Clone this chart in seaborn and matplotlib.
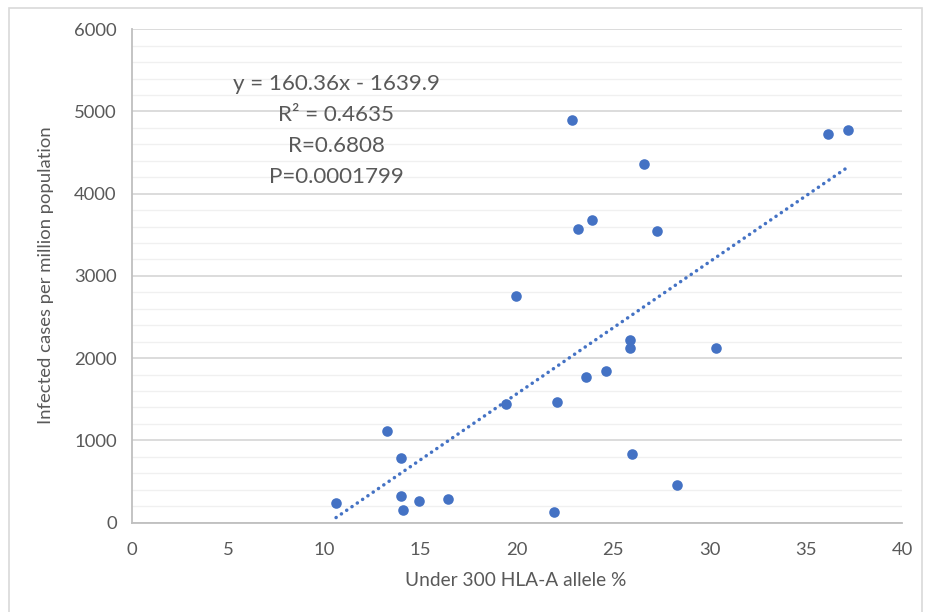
#!/usr/bin/env python3
"""
Scatter of infected cases per million vs. under-300 HLA-A allele %,
with the Excel-style linear trend line and its stats box.
"""

import matplotlib
matplotlib.use("Agg")
import matplotlib.pyplot as plt
import pandas as pd
import seaborn as sns
from matplotlib.patches import Rectangle
from matplotlib.ticker import MultipleLocator

# --- Data ---
allele_pct = [
    10.60, 13.23, 13.98, 13.98, 14.08, 14.92, 16.42, 19.96, 19.41, 21.92,
    22.09, 22.86, 23.15, 23.88, 23.60, 24.64, 25.87, 25.87, 25.95, 26.61,
    27.25, 28.29, 30.35, 36.15, 37.17,
]
cases_per_million = [
    241, 1117, 788, 326, 152, 265, 286, 2759, 1445, 131,
    1466, 4900, 3570, 3680, 1774, 1843, 2217, 2123, 833, 4358,
    3546, 460, 2123, 4730, 4771,
]
trend_slope = 160.36
trend_intercept = -1639.9
stats_lines = ["y = 160.36x - 1639.9", "R² = 0.4635", "R=0.6808", "P=0.0001799"]

X_LABEL = "Under 300 HLA-A allele %"
Y_LABEL = "Infected cases per million population"

BLUE = "#4472C4"
TEXT = "#595959"
W, H = 932, 612


def main() -> None:
    df = pd.DataFrame({"x": allele_pct, "y": cases_per_million})

    sns.set_theme(style="white")
    plt.rcParams["font.family"] = ["Lato", "DejaVu Sans"]

    fig = plt.figure(figsize=(W / 100, H / 100), dpi=100)
    fig.patch.set_facecolor("white")
    # light frame round the chart area, as in the Excel export
    fig.patches.append(Rectangle((9 / W, -0.05), 913 / W, 1.05 - 8 / H,
                                 transform=fig.transFigure, fill=False,
                                 edgecolor="#d9d9d9", linewidth=1.2))

    ax = fig.add_axes([132 / W, 1 - 522.5 / H, 770 / W, 493.2 / H])

    ax.set_xlim(0, 40)
    ax.set_ylim(0, 6000)
    ax.xaxis.set_major_locator(MultipleLocator(5))
    ax.yaxis.set_major_locator(MultipleLocator(1000))
    ax.yaxis.set_minor_locator(MultipleLocator(200))

    ax.grid(axis="y", which="major", color="#d9d9d9", linewidth=1.3)
    ax.grid(axis="y", which="minor", color="#f0f0f0", linewidth=1.0)
    ax.grid(axis="x", visible=False)
    ax.set_axisbelow(True)

    for side in ["top", "right"]:
        ax.spines[side].set_visible(False)
    for side in ["left", "bottom"]:
        ax.spines[side].set_color("#bfbfbf")
        ax.spines[side].set_linewidth(1.3)

    ax.tick_params(axis="both", which="major", direction="out", length=5,
                   width=1.3, color="#bfbfbf", labelsize=13.3, labelcolor=TEXT, pad=6)
    ax.tick_params(axis="y", which="minor", length=0)
    ax.tick_params(axis="x", pad=9)

    # trend line over the data range, from the fitted coefficients
    x0, x1 = min(allele_pct), max(allele_pct)
    ax.plot([x0, x1], [trend_slope * x0 + trend_intercept, trend_slope * x1 + trend_intercept],
            color=BLUE, linewidth=2.5, linestyle=(0, (0.05, 1.8)),
            dash_capstyle="round", zorder=2)

    sns.scatterplot(data=df, x="x", y="y", color=BLUE, s=58, linewidth=0,
                    ax=ax, zorder=3)

    ax.set_xlabel("")
    ax.set_ylabel("")
    fig.text(516 / W, 1 - 581 / H, X_LABEL, ha="center", va="center",
             fontsize=13.8, color=TEXT)
    fig.text(46 / W, 1 - 275 / H, Y_LABEL, ha="center", va="center",
             rotation=90, fontsize=13.3, color=TEXT)

    for i, line in enumerate(stats_lines):
        fig.text(336 / W, 1 - (84 + 31 * i) / H, line, ha="center", va="center",
                 fontsize=16.1, color=TEXT)

    fig.savefig("out.png", dpi=100, facecolor="white")
    plt.close(fig)


if __name__ == "__main__":
    main()
